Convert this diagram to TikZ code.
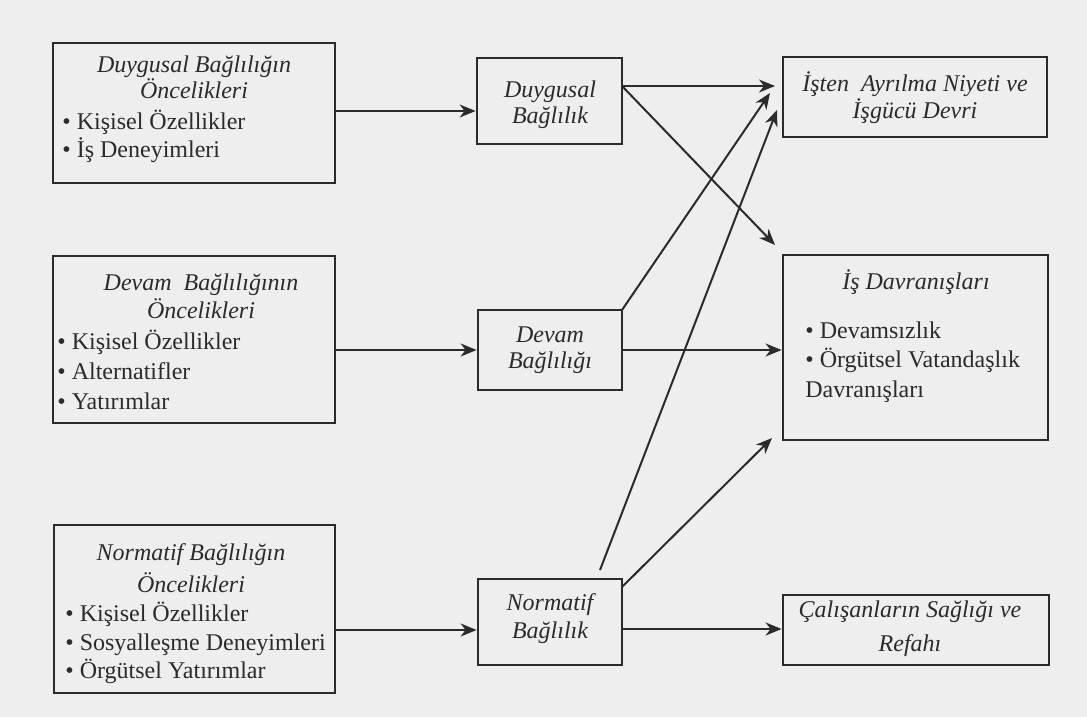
\documentclass[tikz,border=0pt]{standalone}
\usepackage{fontspec}
\setmainfont{Liberation Serif}
\usetikzlibrary{arrows.meta,fit}
\definecolor{ink}{HTML}{2B2B2B}
\definecolor{paper}{HTML}{EEEEEE}
\begin{document}
\begin{tikzpicture}[x=0.5pt,y=-0.5pt,
  box/.style={draw=ink, line width=1.4pt, inner sep=0pt},
  conn/.style={draw=ink, line width=1pt, -{Stealth[length=8pt,width=6.5pt,inset=2.5pt]}},
  ttl/.style={font=\fontsize{12}{13}\selectfont\itshape, text=ink, align=center, inner sep=0pt},
  lst/.style={font=\fontsize{12}{14.5}\selectfont, text=ink, align=left, inner sep=0pt, anchor=west}]
\fill[paper] (0,0) rectangle (1087,717);
\useasboundingbox (0,0) rectangle (1087,717);
% boxes
\node[box, fit={(53,43)(335,183)}] (A1) {};
\node[box, fit={(53,256)(335,423)}] (A2) {};
\node[box, fit={(54,525)(335,693)}] (A3) {};
\node[box, fit={(477,58)(622,144)}] (B1) {};
\node[box, fit={(478,310)(622,390)}] (B2) {};
\node[box, fit={(478,579)(622,665)}] (B3) {};
\node[box, fit={(783,57)(1047,137)}] (C1) {};
\node[box, fit={(783,255)(1048,440)}] (C2) {};
\node[box, fit={(783,595)(1049,665)}] (C3) {};
% texts
\node[ttl] (A1t) at (194,77) {Duygusal Bağlılığın\\Öncelikleri};
\node[lst, font=\fontsize{12}{14}\selectfont] (A1l) at (62,136) {\textbullet\ Kişisel Özellikler\\\textbullet\ İş Deneyimleri};
\node[ttl, font=\fontsize{12}{14}\selectfont\itshape] (A2t) at (201,296) {Devam~ Bağlılığının\\Öncelikleri};
\node[lst, font=\fontsize{12}{15}\selectfont] (A2l) at (57,370) {\textbullet\ Kişisel Özellikler\\\textbullet\ Alternatifler\\\textbullet\ Yatırımlar};
\node[ttl, font=\fontsize{12}{16}\selectfont\itshape] (A3t) at (191,568) {Normatif Bağlılığın\\Öncelikleri};
\node[lst, font=\fontsize{12}{14.3}\selectfont] (A3l) at (65,643) {\textbullet\ Kişisel Özellikler\\\textbullet\ Sosyalleşme Deneyimleri\\\textbullet\ Örgütsel Yatırımlar};
\node[ttl] (B1t) at (550,105) {Duygusal\\Bağlılık};
\node[ttl] (B2t) at (550,350) {Devam\\Bağlılığı};
\node[ttl, font=\fontsize{12}{14}\selectfont\itshape] (B3t) at (550,619) {Normatif\\Bağlılık};
\node[ttl, font=\fontsize{12}{13.5}\selectfont\itshape] (C1t) at (915,98) {İşten~ Ayrılma Niyeti ve\\İşgücü Devri};
\node[ttl] (C2t) at (916,282) {İş Davranışları};
\node[lst, font=\fontsize{12}{14.75}\selectfont] (C2l) at (805,362) {\textbullet\ Devamsızlık\\\textbullet\ Örgütsel Vatandaşlık\\Davranışları};
\node[ttl, font=\fontsize{12}{17}\selectfont\itshape] (C3t) at (910,629) {Çalışanların Sağlığı ve\\Refahı};
% ports
\coordinate (B1o) at (622,86);
\coordinate (C1a) at (775,86);
\coordinate (C1b) at (770,93);
\coordinate (C1c) at (777,110);
\coordinate (C2a) at (775,245);
\coordinate (C2b) at (772,438);
\coordinate (B2o) at (622,310);
\coordinate (B3a) at (600,570);
\coordinate (B3b) at (622,587);
% connectors
\draw[conn] (A1.east |- 0,111) -- (B1.west |- 0,111);
\draw[conn] (A2.east |- 0,350) -- (B2.west |- 0,350);
\draw[conn] (A3.east |- 0,630) -- (B3.west |- 0,630);
\draw[conn] (B1o) -- (C1a);
\draw[conn] (B1o) -- (C2a);
\draw[conn] (B2o) -- (C1b);
\draw[conn] (B3a) -- (C1c);
\draw[conn] (B2.east |- 0,350) -- (C2.west |- 0,350);
\draw[conn] (B3b) -- (C2b);
\draw[conn] (B3.east |- 0,629) -- (C3.west |- 0,629);
\end{tikzpicture}
\end{document}
